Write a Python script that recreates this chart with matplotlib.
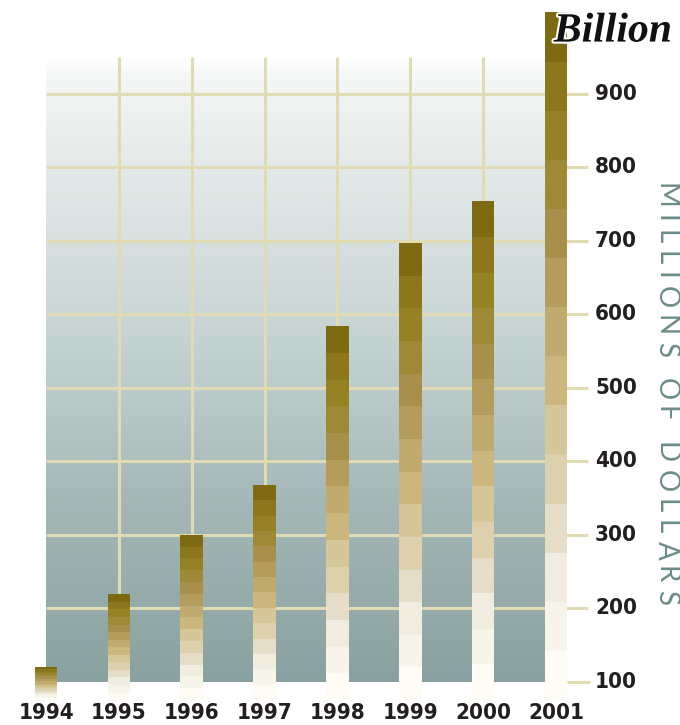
"""
Spending chart - billion by 2001
Stacked-shade bars over a gradient panel, value labels on the right.
"""

import numpy as np
import matplotlib
matplotlib.use("Agg")
import matplotlib.pyplot as plt
import matplotlib.patheffects as pe
from matplotlib import font_manager as fm
from matplotlib.colors import LinearSegmentedColormap

# ---------------------------------------------------------------------------
# Data
# ---------------------------------------------------------------------------
YEARS = ["1994", "1995", "1996", "1997", "1998", "1999", "2000", "2001"]
VALUES = [120, 219, 300, 368, 584, 697, 754, 1011]   # millions of dollars
TICKS = [100, 200, 300, 400, 500, 600, 700, 800, 900]

# ---------------------------------------------------------------------------
# Style
# ---------------------------------------------------------------------------
BAR_BASE = 75          # bars start slightly below the panel
N_SEG = 14
SEG_COLORS = [         # top -> bottom
    "#7D6A12", "#8C771C", "#958224", "#9E8A36", "#A8904C", "#B49C5C",
    "#C1AA6E", "#CBB77E", "#D6C79A", "#DDD0AC", "#E6DDC8", "#F1ECE0",
    "#F7F4EA", "#FEFCF4",
]
GRID_COLOR = "#E0DBB2"
TEXT_COLOR = "#231F20"
AXIS_TITLE_COLOR = "#6B8C88"
BAR_W = 0.31

PX_PER_X = 72.86       # pixels per year slot
PX_PER_V = 0.7346      # pixels per million


def pick_label_font() -> dict:
    """Find a narrow bold sans if one is installed, else shrink a normal one."""
    fonts = fm.fontManager.ttflist
    names = {f.name for f in fonts}
    if "Liberation Sans Narrow" in names:
        return dict(family="Liberation Sans Narrow", fontweight="bold", fontsize=18)
    for f in fonts:
        if f.name == "DejaVu Sans" and "condensed" in str(f.stretch) and f.weight in ("bold", 700):
            return dict(family="DejaVu Sans", fontstretch="condensed",
                        fontweight="bold", fontsize=16)
    for f in fonts:
        if "Condensed" in f.name or "Narrow" in f.name:
            return dict(family=f.name, fontweight="bold", fontsize=17)
    return dict(family=["Roboto", "DejaVu Sans"], fontweight="bold", fontsize=16.5)


fig = plt.figure(figsize=(6.8, 7.25), dpi=100)
ax = fig.add_axes([0, 0, 1, 1])
x0 = -46 / PX_PER_X
ax.set_xlim(x0, x0 + 680 / PX_PER_X)
v_top = 100 + 681.7 / PX_PER_V
ax.set_ylim(v_top - 725 / PX_PER_V, v_top)
ax.axis("off")

# ---------------------------------------------------------------------------
# Gradient panel
# ---------------------------------------------------------------------------
panel_top = 950
stops = [
    (100, "#8AA1A1"), (200, "#95ABA9"), (350, "#A5B8B7"), (500, "#BCCBCB"),
    (620, "#CDD8D8"), (760, "#DFE6E5"), (880, "#EDF1F0"), (930, "#F6F8F7"),
    (950, "#FFFFFF"),
]
cmap = LinearSegmentedColormap.from_list(
    "panel", [((v - 100) / (panel_top - 100), c) for v, c in stops])
grad = np.linspace(1, 0, 400).reshape(-1, 1)
panel_right = 7 - BAR_W / 2
ax.imshow(grad, cmap=cmap, aspect="auto", interpolation="bilinear",
          extent=[0, panel_right, 100, panel_top], zorder=0)

# grid
ax.vlines(range(1, 8), 100, panel_top, color=GRID_COLOR, lw=2.2, zorder=1)
ax.hlines(TICKS[1:], 0, (588 - 46) / PX_PER_X, color=GRID_COLOR, lw=2.2, zorder=1)
ax.hlines(TICKS[0], (567 - 46) / PX_PER_X, (590 - 46) / PX_PER_X,
          color=GRID_COLOR, lw=2.2, zorder=1)

# ---------------------------------------------------------------------------
# Bars: each split into equal shaded segments
# ---------------------------------------------------------------------------
colors_bottom_up = SEG_COLORS[::-1]
for i, val in enumerate(VALUES):
    h = (val - BAR_BASE) / N_SEG
    for s in range(N_SEG):
        ax.bar(i, h, bottom=BAR_BASE + s * h, width=BAR_W,
               color=colors_bottom_up[s], lw=0, zorder=3)

# ---------------------------------------------------------------------------
# Labels
# ---------------------------------------------------------------------------
label_font = pick_label_font()
label_font["color"] = TEXT_COLOR
for i, yr in enumerate(YEARS):
    ax.text(i, 58, yr, ha="center", va="center", **label_font)

lx = (595 - 46) / PX_PER_X
for t in TICKS:
    ax.text(lx, t, str(t), ha="left", va="center", **label_font)

ax.text((613 - 46) / PX_PER_X, 985, "Billion", ha="center", va="center",
        family=["Liberation Serif", "DejaVu Serif"], style="italic",
        fontweight="bold", fontsize=30, color="#111111", zorder=5,
        path_effects=[pe.withStroke(linewidth=3, foreground="white")])

# letter-spaced vertical axis title, placed one glyph at a time
title = "MILLIONS OF DOLLARS"
title_font = dict(family=["Lato", "DejaVu Sans"], fontweight="normal",
                  fontsize=20, color=AXIS_TITLE_COLOR)
renderer = fig.canvas.get_renderer()
widths = []
for ch in title:
    if ch == " ":
        widths.append(7.0)
        continue
    tmp = ax.text(0, 0, ch, **title_font)
    widths.append(tmp.get_window_extent(renderer).width)
    tmp.remove()
y_start_px, y_end_px = 183, 605
gap = (y_end_px - y_start_px - sum(widths)) / (len(title) - 1)
tx = (666 - 46) / PX_PER_X
y_px = y_start_px
for ch, w in zip(title, widths):
    if ch != " ":
        v = 100 + (681.7 - y_px) / PX_PER_V
        ax.text(tx, v, ch, rotation=-90, ha="center", va="top", **title_font)
    y_px += w + gap

fig.savefig("out.png", dpi=100)
